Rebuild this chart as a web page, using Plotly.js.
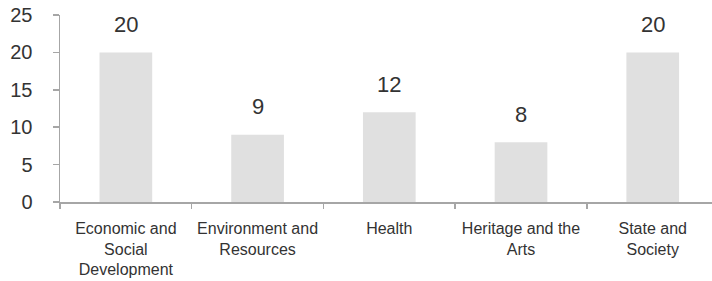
<!DOCTYPE html>
<html>
<head>
<meta charset="utf-8">
<script src="https://cdn.plot.ly/plotly-3.0.1.min.js"></script>
<style>html,body{margin:0;padding:0;background:#fff;}#chart{width:712px;height:281px;}</style>
</head>
<body>
<div id="chart"></div>
<script>
const categories = ["Economic and<br>Social<br>Development", "Environment and<br>Resources", "Health", "Heritage and the<br>Arts", "State and<br>Society"];
const values = [20, 9, 12, 8, 20];
const yTicks = [0, 5, 10, 15, 20, 25];

const FONT = "Liberation Sans, Arial, sans-serif";
const trace = {
  type: "bar",
  x: categories,
  y: values,
  width: 0.4,
  marker: {color: "#e0e0e0"},
  hoverinfo: "none"
};
const annotations = categories.map((c, i) => ({
  x: c, y: values[i], xref: "x", yref: "y",
  text: String(values[i]), showarrow: false,
  yanchor: "middle", yshift: 28,
  font: {family: FONT, size: 22, color: "#333333"}
}));
const layout = {
  width: 712, height: 281,
  margin: {l: 60, r: 0, t: 15, b: 79},
  paper_bgcolor: "#ffffff", plot_bgcolor: "#ffffff",
  showlegend: false,
  xaxis: {
    type: "category",
    range: [-0.5, 4.45],
    showline: true, linecolor: "#a6a6a6", linewidth: 1.5,
    ticks: "outside", tickson: "boundaries", ticklen: 5, tickcolor: "#a6a6a6", tickwidth: 1.5,
    showgrid: false, zeroline: false,
    tickfont: {family: FONT, size: 16, color: "#333333"},
    ticklabelstandoff: 11
  },
  yaxis: {
    range: [0, 25],
    tickvals: yTicks, ticktext: yTicks.map(String),
    showline: true, linecolor: "#a6a6a6", linewidth: 1.5,
    ticks: "outside", ticklen: 6, tickcolor: "#a6a6a6", tickwidth: 1.5,
    showgrid: false, zeroline: false,
    tickfont: {family: FONT, size: 20, color: "#333333"},
    ticklabelstandoff: 16
  },
  annotations: annotations
};
Plotly.newPlot("chart", [trace], layout, {displayModeBar: false, staticPlot: true});
</script>
</body>
</html>
